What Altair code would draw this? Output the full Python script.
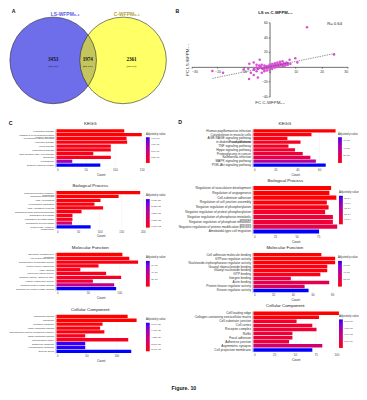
import altair as alt
import pandas as pd

FONT = "Liberation Sans"
SERIF = "Liberation Serif"

# ---------------- Panel A : Venn diagram ----------------
venn_sets = ["LS-WFPM₀.₁", "C-WFPM₀.₁"]
venn_cx = [0.0, 1.615]
venn_cy = [0.0, 0.0]
venn_fill = ["#6E6EEB", "#FFFF00"]
venn_label_x = [0.275, 1.70]
venn_label_y = [1.077, 1.077]
venn_label_color = ["#5C5CE8", "#B3A43A"]
region_counts = ["3453", "1974", "2361"]
region_pct = ["(44.3%)", "(25.3%)", "(30.3%)"]
region_x = [0.0, 0.80, 1.81]

# ---------------- Panel B : scatter ----------------
fc_c = [14.4, 24.8, 9.9, 10.7, 7.7, -3.8, -6.1, -7.8, -22.0, -17.9, -10.0, -8.2, -7.9, -4.5,
        -6.1, -7.2, -5.0, -3.0, -2.0, 0.5, 1.0, 1.5, 2.0, 2.5, 3.0, 3.5, 4.0, 4.5, 5.0, 5.5,
        6.0, 6.5, 7.0, 3.0, 2.0, 4.0, 5.0, 1.0, 0.0, -0.5, -1.0, -1.5, -2.0, -2.5, -3.0, -3.5,
        -4.0, -4.5, -5.0, -1.0, -2.0, -3.0, 0.0, 1.0, 2.0, 3.0, 4.0, 5.0, 6.0, 7.0, 8.0, 1.0,
        0.0, -1.0, -2.0, -4.0, -5.0, -6.0, -6.0, 2.5, 3.5, 4.5, 5.5, 6.5, 3.0, 2.0, 1.0, -0.5, -1.5]
fc_ls = [53.4, 16.8, 11.6, 6.0, 9.5, 9.5, 6.0, 4.3, -5.6, -7.8, -3.4, -2.6, -16.4, -14.2,
         -10.8, -7.8, -6.0, -8.0, -4.0, 1.0, 2.0, 1.5, 3.0, 2.0, 4.0, 3.0, 5.0, 4.0, 3.0, 5.0,
         4.0, 6.0, 5.0, 6.0, 5.0, 7.0, 7.5, -1.0, 0.0, -1.0, -2.0, 0.0, -1.0, -3.0, -2.0, 1.0,
         -1.0, -3.0, -1.0, 1.0, 2.0, 3.0, 3.0, 4.0, -1.0, 1.0, 2.0, 1.0, 2.0, 3.0, 4.0, -3.0,
         -4.0, -5.0, -6.0, 2.0, 3.0, -2.0, -4.0, 0.0, 1.5, 2.5, 2.0, 3.5, 2.0, 1.0, 0.5, 0.5, -1.5]
trend_x = [-22.0, 25.0]
trend_y = [-15.5, 18.0]
r_label = ["R= 0.64"]
r_pos = [25.0, 58.0]

# ---------------- Panel C ----------------
c_kegg_terms = ["Huntington disease", "Pathways of neurodegeneration\n- multiple diseases",
                "Amyotrophic lateral sclerosis", "Alzheimer disease", "Prion disease",
                "Parkinson's disease", "Non-alcoholic fatty liver disease", "Ribosome",
                "Proteasome", "Diabetic cardiomyopathy"]
c_kegg_count = [116, 146, 120, 121, 93, 93, 63, 93, 27, 75]
c_kegg_p = [0.0, 1e-12, 2e-12, 2e-12, 4e-12, 4e-12, 5e-12, 6e-12, 6.8e-11, 1.04e-10]

c_bp_terms = ["Ribonucleoprotein complex\nbiogenesis", "Ribosome biogenesis", "rRNA processing",
              "Cytoplasmic translation", "rRNA metabolic process",
              "Ribosomal small subunit biogenesis", "Translation at synapse",
              "Translation at postsynapse", "Translation at presynapse",
              "Protein-RNA complex\norganization"]
c_bp_count = [194, 144, 102, 88, 108, 58, 37, 37, 36, 79]
c_bp_p = [7.0e-62, 7e-25, 1.4e-24, 1.4e-24, 2e-24, 2e-24, 3.5e-24, 4.2e-24, 2.5e-23, 7.11e-23]

c_mf_terms = ["Structural constituent of\nribosome", "ATP hydrolysis activity",
              "Transcription coregulator activity", "Protein carrier chaperone", "rRNA binding",
              "Molecular carrier activity", "Catalytic activity, acting on RNA",
              "Histone chaperone activity", "Ubiquitin protein ligase binding",
              "Ubiquitin-like protein ligase binding"]
c_mf_count = [105, 116, 130, 67, 38, 79, 103, 58, 92, 95]
c_mf_p = [0.0, 1.4e-14, 2.1e-14, 2.8e-14, 3.5e-14, 4.2e-14, 5.6e-14, 1.05e-13, 3.5e-13, 7.0e-13]

c_cc_terms = ["Ribosomal subunit", "Ribosome", "Cytosolic ribosome", "Large ribosomal subunit",
              "Mitochondrial protein-containing complex", "Small ribosomal subunit",
              "Mitochondrial matrix", "Organellar ribosome", "Mitochondrial ribosome",
              "Nuclear speck"]
c_cc_count = [119, 134, 77, 73, 80, 48, 120, 48, 48, 125]
c_cc_p = [2.4e-65, 1e-23, 8.6e-22, 1.7e-21, 2.6e-21, 4.3e-21, 6.9e-21, 8.38e-20, 8.47e-20, 8.64e-20]

# ---------------- Panel D ----------------
d_kegg_terms = ["Human papillomavirus infection", "Cytoskeleton in muscle cells",
                "AGE-RAGE signaling pathway\nin diabetic complications", "Focal adhesion",
                "TNF signaling pathway", "Hippo signaling pathway", "Proteoglycans in cancer",
                "Salmonella infection", "MAPK signaling pathway", "PI3K-Akt signaling pathway"]
d_kegg_count = [75, 53, 31, 43, 32, 38, 45, 52, 57, 66]
d_kegg_p = [0.0, 1.4e-6, 2.7e-6, 4.1e-6, 5.4e-6, 8.2e-6, 1.0e-5, 1.4e-5, 3.7e-5, 6.8e-5]

d_bp_terms = ["Regulation of vasculature development", "Regulation of angiogenesis",
              "Cell-substrate adhesion", "Regulation of cell junction assembly",
              "Negative regulation of phosphorylation",
              "Negative regulation of protein phosphorylation",
              "Negative regulation of phosphorus metabolic\nprocess",
              "Negative regulation of phosphate metabolic\nprocess",
              "Negative regulation of protein modification process",
              "Ameboidal-type cell migration"]
d_bp_count = [90, 88, 96, 85, 87, 83, 92, 92, 97, 76]
d_bp_p = [0.0, 1e-16, 5e-16, 1e-15, 2e-15, 5.4e-15, 8e-15, 8e-15, 1.1e-14, 5.4e-14]

d_mf_terms = ["Cell adhesion molecule binding", "GTPase regulator activity",
              "Nucleoside-triphosphatase regulator activity", "Guanyl ribonucleotide binding",
              "Guanyl nucleotide binding", "GTP binding", "Integrin binding", "Actin binding",
              "Protein kinase regulator activity", "Kinase regulator activity"]
d_mf_count = [69, 83, 83, 75, 75, 68, 38, 77, 52, 56]
d_mf_p = [0.0, 7e-10, 7e-10, 2.1e-9, 2.1e-9, 3.5e-9, 1.4e-8, 1.75e-8, 2.1e-8, 7.0e-8]

d_cc_terms = ["Cell leading edge", "Collagen-containing extracellular matrix",
              "Cell-substrate junction", "Cell cortex", "Receptor complex", "Ruffle",
              "Focal adhesion", "Adherens junction", "Asymmetric synapse",
              "Cell projection membrane"]
d_cc_count = [103, 79, 52, 71, 76, 47, 47, 43, 83, 71]
d_cc_p = [0.0, 4e-10, 2.1e-9, 2.5e-9, 2.9e-9, 3.2e-9, 3.4e-9, 4.2e-9, 8.4e-9, 2.1e-8]

RED, BLUE = "#FF0000", "#0000FF"
CIRCLE_SIZE = 8281  # bounding-box area (px^2) of a circle of radius 45.5 px


def letter_layer(text, dx, dy):
    return alt.Chart(pd.DataFrame({"t": [text]})).mark_text(
        font=FONT, fontSize=5.5, fontWeight="bold", align="left", baseline="top",
        color="#111").encode(text="t:N", x=alt.value(dx), y=alt.value(dy))


def venn_chart():
    vx = alt.Scale(domain=[0.0769, 2.4945], nice=False, zero=False)
    vy = alt.Scale(domain=[-1.055, 0.879], nice=False, zero=False)
    X = alt.X("cx:Q", scale=vx, axis=None)
    Y = alt.Y("cy:Q", scale=vy, axis=None)
    circ = pd.DataFrame({"set": venn_sets, "cx": venn_cx, "cy": venn_cy, "fill": venn_fill})
    left = alt.Chart(circ).transform_filter(alt.datum.set == venn_sets[0]).mark_circle(
        size=CIRCLE_SIZE, opacity=1).encode(x=X, y=Y, color=alt.Color("fill:N", scale=None))
    right = alt.Chart(circ).transform_filter(alt.datum.set == venn_sets[1]).mark_circle(
        size=CIRCLE_SIZE, opacity=0.6).encode(x=X, y=Y, color=alt.Color("fill:N", scale=None))
    ring = alt.Chart(circ).mark_point(shape="circle", filled=False, size=CIRCLE_SIZE,
                                      stroke="#222", strokeWidth=0.6, opacity=1).encode(x=X, y=Y)
    labs = pd.DataFrame({"t": venn_sets, "cx": venn_label_x, "cy": venn_label_y,
                         "c": venn_label_color})
    set_labels = alt.Chart(labs).mark_text(font=FONT, fontSize=5.2, fontWeight="bold").encode(
        x=X, y=Y, text="t:N", color=alt.Color("c:N", scale=None))
    reg = pd.DataFrame({"n": region_counts, "p": region_pct, "cx": region_x,
                        "cy": [0.02] * 3, "cy2": [-0.12] * 3})
    nums = alt.Chart(reg).mark_text(font=SERIF, fontSize=5.4, fontWeight="bold",
                                    color="#111").encode(x=X, y=Y, text="n:N")
    pcts = alt.Chart(reg).mark_text(font=SERIF, fontSize=2.9, fontWeight="bold",
                                    color="#111").encode(
        x=X, y=alt.Y("cy2:Q", scale=vy, axis=None), text="p:N")
    return alt.layer(left, right, ring, set_labels, nums, pcts,
                     letter_layer("A", -47, -14), letter_layer("B", 125, -14)).properties(
        width=110, height=88)


def scatter_chart():
    w, h = 164, 78
    xs = alt.Scale(domain=[-30, 30], nice=False, zero=False)
    ys = alt.Scale(domain=[-40, 60], nice=False, zero=False)
    common = dict(grid=False, domainColor="#000", tickColor="#000", labelFontSize=3.6,
                  labelColor="#333", tickSize=1.5, tickWidth=0.5, domainWidth=0.6,
                  titleFontSize=4.6, titleFontWeight="normal", titleColor="#333",
                  labelFont=FONT, titleFont=FONT, labelPadding=1)
    xax = alt.Axis(values=[-30, -20, -10, 0, 10, 20, 30], offset=-h * 0.4,
                   title="FC C-WFPM₀.₁", titleY=h * 0.4 + 3, **common)
    yax = alt.Axis(values=[-40, -20, 0, 20, 40, 60], offset=-w / 2,
                   title="FC LS-WFPM₀.₁", titleX=-w / 2 - 2, **common)
    X = alt.X("x:Q", scale=xs, axis=xax)
    Y = alt.Y("y:Q", scale=ys, axis=yax)
    pts = alt.Chart(pd.DataFrame({"x": fc_c, "y": fc_ls})).mark_circle(
        size=7, color="#D94FD6", opacity=1).encode(x=X, y=Y)
    tl = alt.Chart(pd.DataFrame({"x": trend_x, "y": trend_y})).mark_line(
        strokeDash=[1.5, 1], color="#444", strokeWidth=0.6).encode(x=X, y=Y)
    rt = alt.Chart(pd.DataFrame({"t": r_label, "x": [r_pos[0]], "y": [r_pos[1]]})).mark_text(
        font=FONT, fontSize=4.4, color="#222").encode(x=X, y=Y, text="t:N")
    return alt.layer(pts, tl, rt).properties(
        width=w, height=h,
        title=alt.TitleParams("LS vs C-WFPM₀.₁", fontSize=4.4, fontWeight="bold",
                              font=FONT, color="#222", offset=5, frame="group", dx=6))


def panel(title, terms, counts, pvals, xmax, ticks, w, h, lab_font, leg_vals, leg_fmt,
          leg_y, glen):
    df = pd.DataFrame({"term": terms, "count": counts, "p": pvals})
    lab_expr = "replace(format(datum.value, '%s'), regexp('e-([0-9])$'), 'e-0$1')" % leg_fmt
    return alt.Chart(df).mark_bar().encode(
        y=alt.Y("term:N", sort=terms,
                scale=alt.Scale(paddingInner=0.14, paddingOuter=0.08),
                axis=alt.Axis(title=None, labelFontSize=lab_font, labelFont=FONT,
                              labelExpr="split(datum.label, '\\n')",
                              labelLineHeight=lab_font, ticks=False,
                              domainColor="#c8c8c8", domainWidth=0.8, offset=1.5,
                              labelPadding=1.5, labelColor="#333", labelLimit=200)),
        x=alt.X("count:Q", scale=alt.Scale(domain=[0, xmax], nice=False),
                axis=alt.Axis(title="Count", values=ticks, labelFontSize=3, labelFont=FONT,
                              labelColor="#444", titleFontSize=3.4, titleFont=FONT,
                              titleFontWeight="normal", titleColor="#333", titlePadding=1,
                              ticks=False, domain=False, labelPadding=1.5,
                              grid=True, gridColor="#ebebeb", gridWidth=0.4)),
        color=alt.Color("p:Q",
                        scale=alt.Scale(domain=[min(pvals), max(pvals)], range=[RED, BLUE],
                                        interpolate="lab", nice=False, zero=False),
                        legend=alt.Legend(title="Adjusted p value", orient="none",
                                          legendX=w + 1, legendY=leg_y,
                                          direction="vertical", gradientLength=glen,
                                          gradientThickness=4, titleFontSize=2.8,
                                          titleFont=FONT, titleFontWeight="normal",
                                          titleColor="#333", titlePadding=2,
                                          labelFontSize=2.6, labelFont=FONT,
                                          labelColor="#444", labelOffset=1.5,
                                          labelOverlap=False, values=leg_vals,
                                          labelExpr=lab_expr, gradientStrokeWidth=0)),
    ).properties(
        width=w, height=h,
        title=alt.TitleParams(title, fontSize=4.6, fontWeight="normal", font=FONT,
                              color="#222", offset=3, frame="group", dx=-11))


CF, DF = 2.6, 3.4
c_kegg = panel("KEGG", c_kegg_terms, c_kegg_count, c_kegg_p, 151.5, [0, 50, 100, 150], 93, 40,
               CF, [2.5e-11, 5e-11, 7.5e-11, 1e-10], ".1e", 4, 27)
c_bp = panel("Biological Process", c_bp_terms, c_bp_count, c_bp_p, 205, [0, 50, 100, 150, 200],
             93, 40, CF, [7.0e-62, 1.78e-23, 3.55e-23, 5.33e-23, 7.11e-23], ".2e", 4, 30)
c_mf = panel("Molecular Function", c_mf_terms, c_mf_count, c_mf_p, 141, [0, 50, 100], 93, 40,
             CF, [2e-13, 4e-13, 6e-13], ".0e", 4, 27)
c_cc = panel("Cellular Component", c_cc_terms, c_cc_count, c_cc_p, 148, [0, 50, 100], 93, 41,
             CF, [2.4e-65, 2.16e-20, 4.32e-20, 6.48e-20, 8.64e-20], ".2e", 4, 30)

d_kegg = panel("KEGG", d_kegg_terms, d_kegg_count, d_kegg_p, 76.4, [0, 20, 40, 60], 88, 40,
               DF, [2e-5, 4e-5, 6e-5], ".0e", 4, 27)
d_bp = panel("Biological Process", d_bp_terms, d_bp_count, d_bp_p, 98, [0, 25, 50, 75], 89, 51,
             DF, [1e-14, 2e-14, 3e-14, 4e-14, 5e-14], ".0e", 6, 30)
d_mf = panel("Molecular Function", d_mf_terms, d_mf_count, d_mf_p, 85, [0, 20, 40, 60, 80], 88,
             42, DF, [2e-8, 4e-8, 6e-8], ".0e", 4, 27)
d_cc = panel("Cellular Component", d_cc_terms, d_cc_count, d_cc_p, 102,
             [0, 25, 50, 75, 100], 89, 43, DF, [5e-9, 1e-8, 1.5e-8, 2e-8], ".1e", 4, 30)

LETTER = dict(fontSize=5.5, fontWeight="bold", font=FONT, color="#111", anchor="start",
              offset=-4.6)
col_c = alt.vconcat(c_kegg, c_bp, c_mf, c_cc, spacing=8).resolve_scale(
    color="independent").properties(title=alt.TitleParams("C", **LETTER))
col_d = alt.vconcat(d_kegg, d_bp, d_mf, d_cc, spacing=2.5).resolve_scale(
    color="independent").properties(title=alt.TitleParams("D", **LETTER))

top = alt.hconcat(venn_chart(), scatter_chart(), spacing=6)
bottom = alt.hconcat(col_c, col_d, spacing=12).resolve_scale(color="independent")

chart = alt.vconcat(top, bottom, spacing=15).resolve_scale(color="independent").properties(
    padding={"top": -9, "left": 0, "right": 0, "bottom": 0},
    title=alt.TitleParams("Figure. 10", orient="bottom", fontSize=5.5, fontWeight="bold",
                          font=FONT, color="#111", offset=26, anchor="middle"),
).configure(font=FONT).configure_view(stroke=None)

chart.save("out.html", embed_options={"renderer": "svg", "actions": False})
